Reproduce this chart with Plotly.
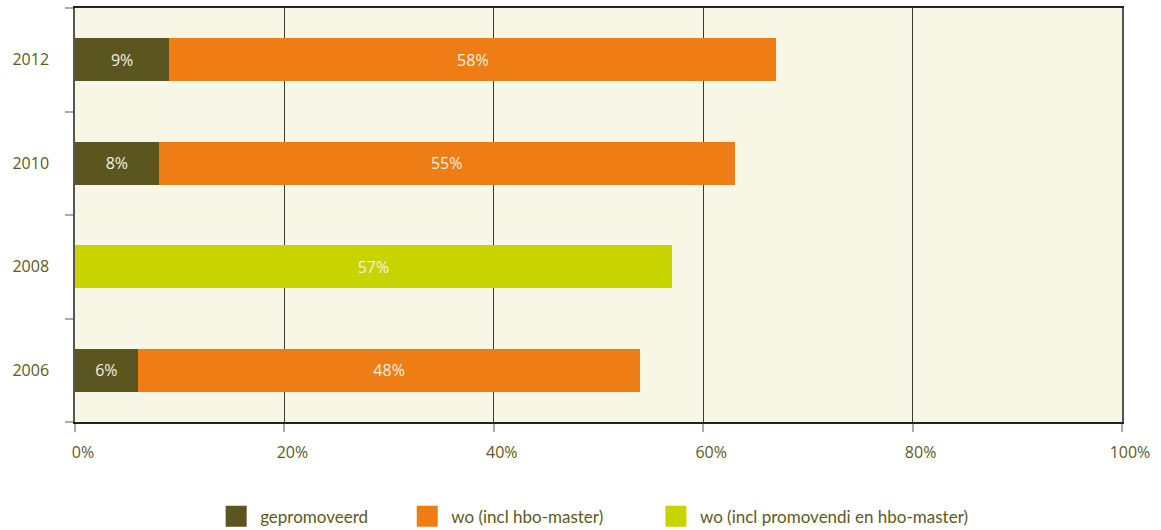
import plotly.graph_objects as go

# Survey years and shares (%) per education level
years = ["2006", "2008", "2010", "2012"]
gepromoveerd = [6, None, 8, 9]
wo_hbo_master = [48, None, 55, 58]
wo_promovendi = [None, 57, None, None]

x_ticks = [0, 20, 40, 60, 80, 100]
x_ticktext = ["0%", "20%", "40%", "60%", "80%", "100%"]

OLIVE = "#5b5520"
ORANGE = "#ee7d16"
LIME = "#c8d400"
BG = "#f8f6e4"
TEXT = "#5e5a22"
FONT = "Open Sans"
LEGEND_FONT = "Lato"

series = [
    ("gepromoveerd", gepromoveerd, OLIVE, "legend"),
    ("wo (incl hbo-master)", wo_hbo_master, ORANGE, "legend2"),
    ("wo (incl promovendi en hbo-master)", wo_promovendi, LIME, "legend3"),
]

fig = go.Figure()
for name, vals, color, _ in series:
    fig.add_trace(go.Bar(
        y=years, x=vals, orientation="h", name=name,
        marker=dict(color=color, line=dict(width=0)),
        text=[f"{v}%" if v is not None else "" for v in vals],
        textposition="inside", insidetextanchor="middle",
        textfont=dict(family=FONT, size=16, color="#f4f1e0"),
        showlegend=False, hoverinfo="skip",
    ))

# legend entries with large square swatches
for name, vals, color, lg in series:
    fig.add_trace(go.Scatter(
        x=[None], y=[None], mode="markers", name=name,
        marker=dict(symbol="square", size=16, color=color,
                    line=dict(color=color, width=6)),
        legend=lg, showlegend=True,
    ))

legend_common = dict(
    orientation="h", yref="container", yanchor="middle", y=0.025,
    xanchor="left",
    font=dict(family=LEGEND_FONT, size=17, color=TEXT),
    bgcolor="rgba(0,0,0,0)", itemwidth=38, itemsizing="trace",
)

fig.update_layout(
    width=1161, height=530,
    margin=dict(l=75, r=39, t=8, b=108, autoexpand=False),
    paper_bgcolor="white", plot_bgcolor=BG,
    barmode="stack", bargap=0.58,
    uniformtext=dict(mode="show", minsize=8),
    legend=dict(legend_common, x=0.131),
    legend2=dict(legend_common, x=0.3135),
    legend3=dict(legend_common, x=0.551),
    xaxis=dict(
        range=[0, 100], tickvals=x_ticks, ticktext=x_ticktext,
        showgrid=True, gridcolor="#3a3a3a", gridwidth=1,
        showline=True, linecolor="#222222", linewidth=1.5, mirror=True,
        ticks="outside", ticklen=8, tickwidth=2, tickcolor="#aaaaaa",
        tickfont=dict(family=FONT, size=16, color=TEXT),
        ticklabelshift=8, ticklabelstandoff=7,
        zeroline=False, fixedrange=True,
    ),
    yaxis=dict(
        categoryorder="array", categoryarray=years,
        showline=True, linecolor="#555555", linewidth=1.5, mirror=True,
        ticks="outside", tickson="boundaries", ticklen=8, tickwidth=2,
        tickcolor="#aaaaaa",
        tickfont=dict(family=FONT, size=16, color=TEXT),
        ticklabelstandoff=21,
        showgrid=False, fixedrange=True,
    ),
)

fig.write_html("out.html")
